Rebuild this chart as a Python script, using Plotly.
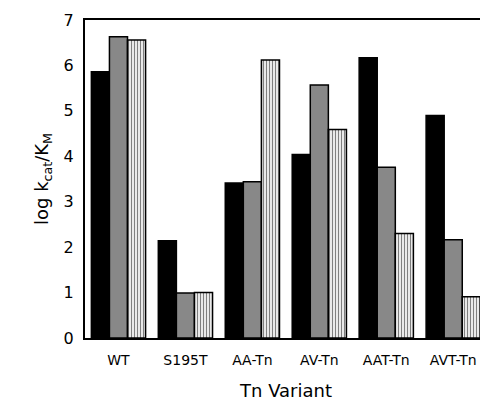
import plotly.graph_objects as go

categories = ["WT", "S195T", "AA-Tn", "AV-Tn", "AAT-Tn", "AVT-Tn"]
series1 = [5.86, 2.14, 3.41, 4.04, 6.17, 4.90]
series2 = [6.63, 0.99, 3.44, 5.57, 3.76, 2.16]
series3 = [6.56, 1.00, 6.12, 4.59, 2.30, 0.91]
y_ticks = [0, 1, 2, 3, 4, 5, 6, 7]

fig = go.Figure()
fig.add_bar(x=categories, y=series1, marker=dict(color="black", line=dict(color="black", width=1.5)))
fig.add_bar(x=categories, y=series2, marker=dict(color="#888888", line=dict(color="black", width=1.5)))
fig.add_bar(x=categories, y=series3, marker=dict(color="white", line=dict(color="black", width=1.5),
            pattern=dict(shape="|", fgcolor="black", bgcolor="white", size=3, solidity=0.45)))

plot_h = 318
fig.update_layout(
    width=480, height=400,
    margin=dict(l=85, r=0, t=20, b=62),
    plot_bgcolor="white", paper_bgcolor="white",
    barmode="group", bargap=0.19, bargroupgap=0,
    showlegend=False,
    font=dict(family="DejaVu Sans", color="black"),
    xaxis=dict(range=[-0.5, 5.4], showline=True, linecolor="black", linewidth=2, mirror=True,
               ticks="outside", ticklen=8, tickcolor="white", tickfont=dict(size=14),
               showgrid=False, zeroline=False),
    yaxis=dict(range=[0, 7], tickvals=y_ticks, showline=True, linecolor="black", linewidth=2,
               ticks="outside", ticklen=6, tickcolor="white", tickfont=dict(size=16),
               showgrid=False, zeroline=False,
               title=dict(text="log k<sub>cat</sub>/K<sub>M</sub>", font=dict(size=18), standoff=10)),
    annotations=[dict(text="Tn Variant", x=2.5, xref="x", y=-52 / plot_h, yref="paper",
                      yanchor="middle", showarrow=False, font=dict(size=18))],
)
fig.write_html("out.html", config={"displayModeBar": False},
               post_script="document.body.style.margin='0';document.body.style.overflow='hidden';")
